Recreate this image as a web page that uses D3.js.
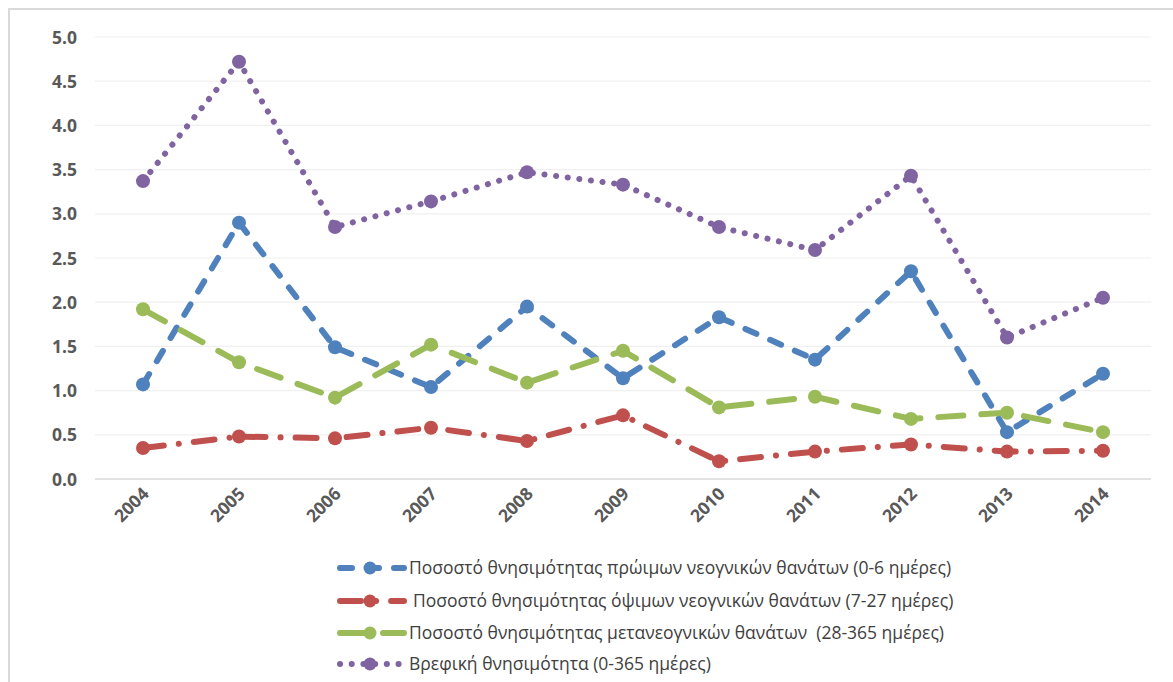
<!DOCTYPE html>
<html><head><meta charset="utf-8">
<script src="https://cdn.jsdelivr.net/npm/d3@7"></script>
<style>body{margin:0;background:#fff;}svg{display:block;font-family:"Open Sans","Liberation Sans",sans-serif;}</style>
</head><body>
<svg id="c" width="1173" height="682"></svg>
<script>
const years = ["2004","2005","2006","2007","2008","2009","2010","2011","2012","2013","2014"];
const early = [1.07,2.90,1.49,1.04,1.95,1.14,1.83,1.35,2.35,0.53,1.19];
const late = [0.35,0.48,0.46,0.58,0.43,0.72,0.20,0.31,0.39,0.31,0.32];
const postNeo = [1.92,1.32,0.92,1.52,1.09,1.45,0.81,0.93,0.68,0.75,0.53];
const infant = [3.37,4.72,2.85,3.14,3.47,3.33,2.85,2.59,3.43,1.60,2.05];
const yTicks = [0,0.5,1,1.5,2,2.5,3,3.5,4,4.5,5];
const seriesNames = [
 "Ποσοστό θνησιμότητας πρώιμων νεογνικών θανάτων (0-6 ημέρες)",
 "Ποσοστό θνησιμότητας όψιμων νεογνικών θανάτων (7-27 ημέρες)",
 "Ποσοστό θνησιμότητας μεταneογνικών θανάτων  (28-365 ημέρες)".replace("neο","νεο"),
 "Βρεφική θνησιμότητα (0-365 ημέρες)"
];
const colors = ["#4F81BD","#C0504D","#9BBB59","#8064A2"];
const dashes = ["12,15","21,15,0.1,15","25,18","0.1,11.6"];
const widths = [6,6,6,6];
const data = [early,late,postNeo,infant];

const svg = d3.select("#c");
svg.append("rect").attr("x",9).attr("y",9).attr("width",1200).attr("height",700)
  .attr("fill","#fff").attr("stroke","#d9d9d9").attr("stroke-width",2);

const x = d3.scaleBand().domain(years).range([95,1151]);
const y = d3.scaleLinear().domain([0,5]).range([479,37]);
const cx = d => x(d)+x.bandwidth()/2;

// gridlines
svg.append("g").selectAll("line").data(yTicks.slice(1)).join("line")
  .attr("x1",95).attr("x2",1151).attr("y1",d=>y(d)).attr("y2",d=>y(d))
  .attr("stroke","#f0f0f0").attr("stroke-width",1.2);
svg.append("line").attr("x1",95).attr("x2",1151).attr("y1",y(0)).attr("y2",y(0))
  .attr("stroke","#d9d9d9").attr("stroke-width",1.3);

// y axis
const ya = svg.append("g").attr("transform","translate(77,0)")
  .call(d3.axisLeft(y).tickValues(yTicks).tickFormat(d3.format(".1f")).tickSize(0).tickPadding(0));
ya.select(".domain").remove();
ya.selectAll("text").attr("fill","#595959").attr("font-size",17.5).attr("font-weight","bold")
  .style("font-family","'Open Sans',sans-serif").attr("dy","0.35em");

// x axis
const xa = svg.append("g").attr("transform",`translate(0,${y(0)})`)
  .call(d3.axisBottom(x).tickSize(0).tickPadding(0));
xa.select(".domain").remove();
xa.selectAll("text").attr("fill","#595959").attr("font-size",17.5).attr("font-weight","bold")
  .style("font-family","'Open Sans',sans-serif")
  .attr("text-anchor","end").attr("dy",0).attr("y",0)
  .attr("transform","translate(7,16) rotate(-45)");

// lines
const line = d3.line().x((d,i)=>cx(years[i])).y(d=>y(d));
data.forEach((s,k)=>{
  const g = svg.append("g");
  g.append("path").attr("d",line(s)).attr("fill","none").attr("stroke",colors[k])
    .attr("stroke-width",widths[k]).attr("stroke-dasharray",dashes[k])
    .attr("stroke-linecap","round").attr("stroke-linejoin","round");
  g.selectAll("circle").data(s).join("circle")
    .attr("cx",(d,i)=>cx(years[i])).attr("cy",d=>y(d)).attr("r",7).attr("fill",colors[k]);
});

// legend
const ly = [568,601,633,664];
const lg = svg.append("g");
seriesNames.forEach((n,k)=>{
  const g = lg.append("g").attr("transform",`translate(0,${ly[k]})`);
  g.append("line").attr("x1",340).attr("x2",404).attr("y1",0).attr("y2",0)
    .attr("stroke",colors[k]).attr("stroke-width",widths[k]).attr("stroke-dasharray",dashes[k])
    .attr("stroke-linecap","round");
  g.append("circle").attr("cx",370).attr("cy",0).attr("r",6.5).attr("fill",colors[k]);
  g.append("text").attr("x",k===1?413:409).attr("y",0).attr("dy","0.35em")
    .style("white-space","pre")
    .attr("fill","#404040").attr("font-size",17.5).text(n);
});
</script>
</body></html>
